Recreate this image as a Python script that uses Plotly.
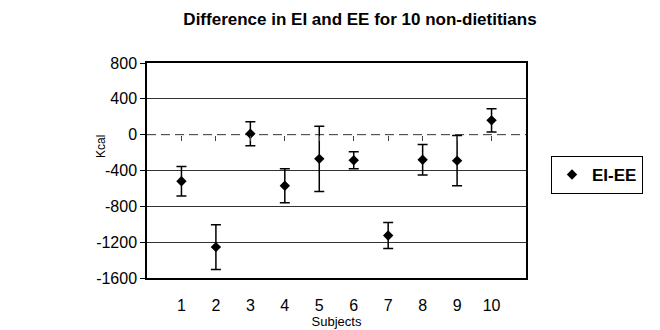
import plotly.graph_objects as go

subjects = [1, 2, 3, 4, 5, 6, 7, 8, 9, 10]
ei_ee = [-520, -1255, 10, -570, -270, -285, -1125, -280, -290, 160]
err = [165, 250, 135, 190, 365, 95, 145, 170, 280, 130]
y_ticks = [-1600, -1200, -800, -400, 0, 400, 800]
grid_vals = [-1200, -800, -400, 400]

FONT = "Arial, Liberation Sans, sans-serif"

fig = go.Figure()
fig.add_trace(go.Scatter(
    x=subjects, y=ei_ee, mode="markers", name="<b>EI-EE</b>",
    marker=dict(symbol="diamond", size=8, color="black"),
    error_y=dict(type="data", array=err, visible=True, color="black",
                 thickness=1.5, width=5),
))
# invisible trace carrying the axis that crosses at zero
fig.add_trace(go.Scatter(x=subjects, y=ei_ee, mode="none", xaxis="x2",
                         showlegend=False, hoverinfo="skip"))

fig.update_layout(
    width=660, height=330,
    margin=dict(l=147, r=134, t=63, b=52, autoexpand=False),
    paper_bgcolor="white", plot_bgcolor="white",
    font=dict(family=FONT, color="black"),
    title=dict(text="<b>Difference in EI and EE for 10 non-dietitians</b>",
               x=360/660, xanchor="center", xref="container",
               y=1-19/330, yanchor="middle", yref="container",
               font=dict(size=17, family=FONT, color="black")),
    showlegend=True,
    legend=dict(x=(551-147)/379, xanchor="left", y=(278-156)/215, yanchor="top",
                bordercolor="black", borderwidth=1, bgcolor="white",
                font=dict(size=17, family=FONT, color="black"),
                itemwidth=30, tracegroupgap=0),
    xaxis=dict(range=[0, 11], tickvals=subjects, ticktext=[str(s) for s in subjects],
               ticks="", showgrid=False, zeroline=False, automargin=False,
               showline=True, mirror=True, linecolor="black", linewidth=1.5,
               ticklabelstandoff=12, tickfont=dict(size=16, family=FONT),
               title=dict(text="Subjects", font=dict(size=13, family=FONT), standoff=1)),
    xaxis2=dict(range=[0, 11], overlaying="x", anchor="free", position=2/3,
                tickvals=subjects, ticks="outside", ticklen=5, tickwidth=1,
                tickcolor="#444", showticklabels=False, showgrid=False,
                zeroline=False, showline=False, automargin=False),
    yaxis=dict(range=[-1600, 800], tickvals=y_ticks, ticktext=[str(v) for v in y_ticks],
               showgrid=False, zeroline=False,
               ticks="outside", ticklen=5, tickcolor="black", automargin=False,
               showline=True, mirror=True, linecolor="black", linewidth=1.5,
               tickfont=dict(size=16, family=FONT),
               minor=dict(tickmode="array", tickvals=grid_vals, showgrid=True,
                          gridcolor="#333", gridwidth=1, ticks="")),
    shapes=[dict(type="line", xref="paper", x0=0, x1=1, yref="y", y0=0, y1=0,
                 line=dict(color="#333", width=1, dash="9px,5px"), layer="below")],
    annotations=[dict(text="Kcal", xref="paper", yref="paper",
                      x=(92-147)/379, y=(278-147)/215, textangle=-90,
                      showarrow=False, font=dict(size=12, family=FONT))],
)

fig.write_html("out.html")
